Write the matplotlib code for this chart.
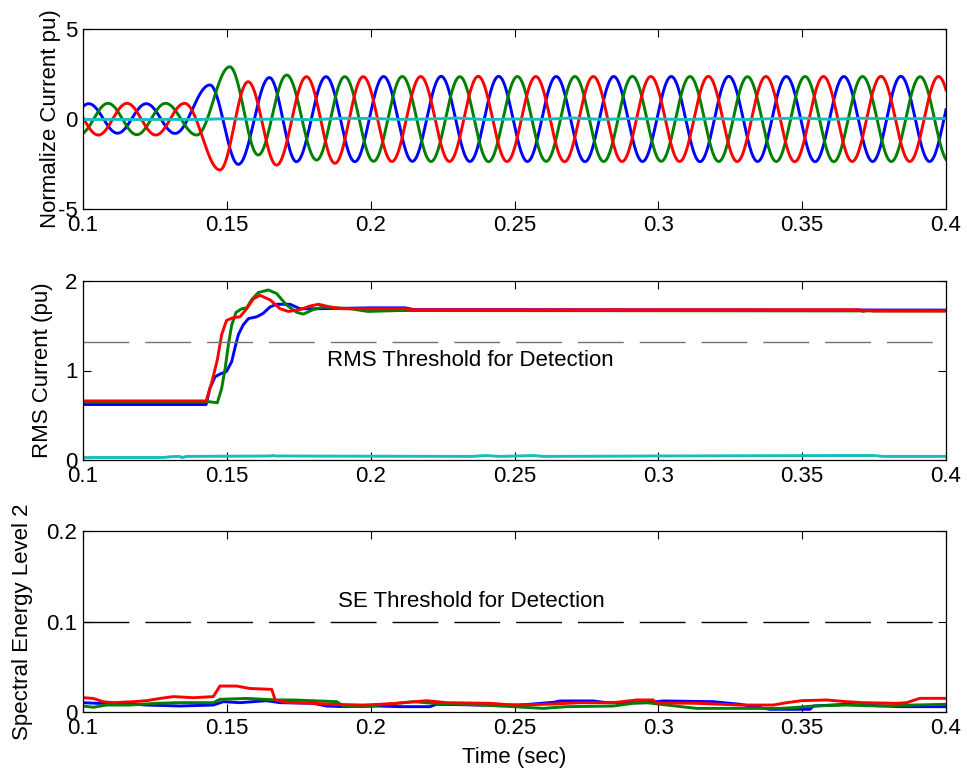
import numpy as np
import matplotlib
matplotlib.use("Agg")
import matplotlib.pyplot as plt

plt.rcParams['font.family'] = ['Liberation Sans', 'DejaVu Sans']
plt.rcParams['font.size'] = 16
plt.rcParams['axes.unicode_minus'] = False

# ---------------- phase-current waveforms: successive peaks / troughs ----------------
blue_ext_t = [0.0920, 0.1020, 0.1120, 0.1220, 0.1320, 0.1441, 0.1540, 0.1648, 0.1742,
              0.1845, 0.1945, 0.2045, 0.2145, 0.2245, 0.2345, 0.2445, 0.2545, 0.2645,
              0.2745, 0.2845, 0.2945, 0.3045, 0.3145, 0.3245, 0.3345, 0.3445, 0.3545,
              0.3645, 0.3745, 0.3843, 0.3943, 0.4043]
blue_ext_v = [-0.80, 0.85, -0.79, 0.85, -0.80, 1.89, -2.52, 2.30, -2.37,
              2.35, -2.37, 2.36, -2.35, 2.37, -2.36, 2.37, -2.36, 2.36,
              -2.37, 2.36, -2.36, 2.36, -2.37, 2.37, -2.36, 2.36, -2.37,
              2.36, -2.36, 2.37, -2.36, 2.36]

green_ext_t = [0.0887, 0.0987, 0.1087, 0.1187, 0.1287, 0.1395, 0.1510, 0.1609, 0.1708,
               0.1812, 0.1910, 0.2010, 0.2110, 0.2210, 0.2310, 0.2410, 0.2510, 0.2610,
               0.2710, 0.2810, 0.2910, 0.3010, 0.3110, 0.3210, 0.3310, 0.3410, 0.3510,
               0.3610, 0.3710, 0.3810, 0.3910, 0.4010]
green_ext_v = [0.87, -0.87, 0.87, -0.87, 0.87, -0.89, 2.90, -2.00, 2.44,
               -2.28, 2.35, -2.35, 2.36, -2.36, 2.35, -2.37, 2.36, -2.35,
               2.36, -2.36, 2.37, -2.35, 2.36, -2.36, 2.35, -2.36, 2.36,
               -2.37, 2.36, -2.36, 2.35, -2.36]

red_ext_t = [0.0953, 0.1053, 0.1153, 0.1253, 0.1353, 0.1476, 0.1574, 0.1673, 0.1777,
             0.1876, 0.1974, 0.2074, 0.2174, 0.2274, 0.2374, 0.2474, 0.2574, 0.2674,
             0.2774, 0.2874, 0.2974, 0.3074, 0.3174, 0.3274, 0.3374, 0.3474, 0.3574,
             0.3674, 0.3774, 0.3874, 0.3974, 0.4074]
red_ext_v = [0.87, -0.89, 0.87, -0.89, 0.87, -2.83, 2.07, -2.56, 2.35,
             -2.46, 2.35, -2.36, 2.36, -2.36, 2.37, -2.36, 2.36, -2.37,
             2.36, -2.36, 2.36, -2.36, 2.37, -2.36, 2.36, -2.37, 2.36,
             -2.36, 2.37, -2.36, 2.36, -2.36]

neutral_t = [0.10, 0.11, 0.12, 0.13, 0.14, 0.15, 0.16, 0.17, 0.18, 0.19, 0.20, 0.21,
             0.22, 0.23, 0.24, 0.25, 0.26, 0.27, 0.28, 0.29, 0.30, 0.31, 0.32, 0.33,
             0.34, 0.35, 0.36, 0.37, 0.38, 0.39, 0.40]
neutral_v = [-0.03, -0.02, -0.03, -0.02, -0.03, 0.02, -0.02, 0.00, -0.04, 0.04, 0.03, -0.02,
             0.00, 0.05, -0.03, 0.00, -0.02, 0.06, -0.02, 0.02, 0.00, -0.03, 0.03, -0.03,
             0.02, 0.05, -0.02, 0.04, 0.02, 0.02, 0.03]

# ---------------- RMS currents ----------------
rms_blue_t = [0.100, 0.1428, 0.1441, 0.1459, 0.1476, 0.1499, 0.1517, 0.1528, 0.1540, 0.1557,
              0.1575, 0.1604, 0.1627, 0.1650, 0.1673, 0.1720, 0.1754, 0.1812, 0.2000, 0.2120,
              0.2150, 0.4000]
rms_blue_v = [0.62, 0.62, 0.80, 0.93, 0.96, 0.99, 1.10, 1.25, 1.40, 1.51,
              1.58, 1.60, 1.64, 1.71, 1.74, 1.74, 1.69, 1.69, 1.70, 1.70,
              1.68, 1.675]

rms_green_t = [0.100, 0.1441, 0.1467, 0.1482, 0.1494, 0.1505, 0.1517, 0.1532, 0.1552, 0.1569,
               0.1586, 0.1609, 0.1644, 0.1673, 0.1708, 0.1743, 0.1766, 0.1800, 0.1835, 0.1880,
               0.1930, 0.1990, 0.2100, 0.4000]
rms_green_v = [0.65, 0.65, 0.64, 0.80, 1.02, 1.28, 1.51, 1.65, 1.69, 1.70,
               1.79, 1.87, 1.90, 1.86, 1.73, 1.65, 1.63, 1.68, 1.71, 1.70,
               1.69, 1.66, 1.67, 1.665]

rms_red_t = [0.100, 0.1428, 0.1447, 0.1467, 0.1482, 0.1499, 0.1522, 0.1546, 0.1569, 0.1592,
             0.1615, 0.1650, 0.1685, 0.1714, 0.1754, 0.1789, 0.1818, 0.1859, 0.1900, 0.2120,
             0.2150, 0.3700, 0.3712, 0.3725, 0.3750, 0.4000]
rms_red_v = [0.66, 0.66, 0.86, 1.12, 1.40, 1.56, 1.59, 1.60, 1.69, 1.80,
             1.84, 1.79, 1.69, 1.66, 1.68, 1.72, 1.74, 1.71, 1.69, 1.69,
             1.678, 1.678, 1.66, 1.675, 1.665, 1.665]

rms_neutral_t = [0.100, 0.128, 0.131, 0.1335, 0.1345, 0.136, 0.165, 0.166, 0.167, 0.235,
                 0.240, 0.245, 0.257, 0.260, 0.300, 0.365, 0.375, 0.378, 0.400]
rms_neutral_v = [0.028, 0.028, 0.038, 0.040, 0.028, 0.040, 0.045, 0.050, 0.045, 0.040,
                 0.050, 0.040, 0.050, 0.040, 0.045, 0.050, 0.050, 0.040, 0.040]

# ---------------- spectral energy, level 2 ----------------
se_blue_t = [0.100, 0.1047, 0.1129, 0.1221, 0.1337, 0.1453, 0.1488, 0.1546, 0.1638, 0.1685,
             0.1800, 0.1847, 0.1917, 0.2032, 0.2102, 0.2206, 0.2229, 0.2380, 0.2519, 0.2635,
             0.2658, 0.2774, 0.2820, 0.2959, 0.3017, 0.3191, 0.3284, 0.3388, 0.3527, 0.3539,
             0.3654, 0.3840, 0.4000]
se_blue_v = [0.0103, 0.0096, 0.0096, 0.0077, 0.0066, 0.0077, 0.0114, 0.0103, 0.0125, 0.0103,
             0.0096, 0.0066, 0.0059, 0.0066, 0.0059, 0.0059, 0.0085, 0.0077, 0.0077, 0.0107,
             0.0122, 0.0122, 0.0103, 0.0103, 0.0122, 0.0114, 0.0085, 0.0030, 0.0030, 0.0066,
             0.0085, 0.0059, 0.0059]

se_green_t = [0.100, 0.1036, 0.1082, 0.1163, 0.1256, 0.1337, 0.1453, 0.1476, 0.1569, 0.1673,
              0.1731, 0.1882, 0.1905, 0.1974, 0.2032, 0.2148, 0.2218, 0.2380, 0.2496, 0.2600,
              0.2681, 0.2843, 0.2913, 0.2959, 0.3029, 0.3133, 0.3307, 0.3423, 0.3481, 0.3539,
              0.3654, 0.3770, 0.3886, 0.4000]
se_green_v = [0.0066, 0.0052, 0.0077, 0.0077, 0.0096, 0.0103, 0.0103, 0.0140, 0.0150, 0.0133,
              0.0133, 0.0114, 0.0066, 0.0059, 0.0077, 0.0114, 0.0096, 0.0077, 0.0059, 0.0040,
              0.0059, 0.0066, 0.0096, 0.0103, 0.0077, 0.0040, 0.0040, 0.0040, 0.0051, 0.0066,
              0.0077, 0.0066, 0.0077, 0.0085]

se_red_t = [0.100, 0.1036, 0.1070, 0.1105, 0.1175, 0.1221, 0.1268, 0.1314, 0.1383, 0.1453,
            0.1476, 0.1534, 0.1580, 0.1656, 0.1668, 0.1708, 0.1800, 0.1859, 0.1974, 0.2032,
            0.2090, 0.2195, 0.2264, 0.2415, 0.2496, 0.2635, 0.2727, 0.2843, 0.2925, 0.2982,
            0.2994, 0.3133, 0.3284, 0.3400, 0.3446, 0.3498, 0.3585, 0.3654, 0.3712, 0.3828,
            0.3863, 0.3909, 0.4000]
se_red_v = [0.0158, 0.0150, 0.0114, 0.0103, 0.0114, 0.0125, 0.0150, 0.0170, 0.0158, 0.0170,
            0.0287, 0.0287, 0.0260, 0.0250, 0.0133, 0.0107, 0.0096, 0.0085, 0.0077, 0.0085,
            0.0096, 0.0125, 0.0103, 0.0096, 0.0077, 0.0088, 0.0103, 0.0103, 0.0133, 0.0133,
            0.0100, 0.0096, 0.0077, 0.0077, 0.0103, 0.0125, 0.0133, 0.0114, 0.0103, 0.0096,
            0.0103, 0.0151, 0.0151]

rms_threshold = 1.32
se_threshold = 0.10

x_ticks = [0.1, 0.15, 0.2, 0.25, 0.3, 0.35, 0.4]
x_ticklabels = ['0.1', '0.15', '0.2', '0.25', '0.3', '0.35', '0.4']

C_BLUE, C_GREEN, C_RED, C_CYAN = '#0000FF', '#008000', '#FF0000', '#17BEBE'


def through_extrema(ext_t, ext_v, t):
    """Smooth half-cosine segments joining consecutive peaks and troughs."""
    ext_t = np.asarray(ext_t)
    ext_v = np.asarray(ext_v)
    i = np.clip(np.searchsorted(ext_t, t, side='right') - 1, 0, len(ext_t) - 2)
    t0, t1 = ext_t[i], ext_t[i + 1]
    v0, v1 = ext_v[i], ext_v[i + 1]
    frac = (t - t0) / (t1 - t0)
    return (v0 + v1) / 2 + (v0 - v1) / 2 * np.cos(np.pi * frac)


fig = plt.figure(figsize=(9.67, 7.75), dpi=100)
left, width = 83 / 967, 863 / 967
ax1 = fig.add_axes([left, 1 - 209 / 775, width, 180 / 775])
ax2 = fig.add_axes([left, 1 - 460 / 775, width, 179 / 775])
ax3 = fig.add_axes([left, 1 - 712 / 775, width, 181 / 775])

LW = 2.1
tt = np.linspace(0.1, 0.4, 4001)

# Panel 1: normalized phase and neutral currents
ax1.plot(tt, through_extrema(blue_ext_t, blue_ext_v, tt), color=C_BLUE, lw=LW)
ax1.plot(tt, through_extrema(green_ext_t, green_ext_v, tt), color=C_GREEN, lw=LW)
ax1.plot(tt, through_extrema(red_ext_t, red_ext_v, tt), color=C_RED, lw=LW)
ax1.plot(neutral_t, neutral_v, color=C_CYAN, lw=LW)
ax1.set_ylim(-5, 5)
ax1.set_yticks([-5, 0, 5])
ax1.set_ylabel('Normalize Current pu)')

# Panel 2: RMS currents
ax2.plot(rms_blue_t, rms_blue_v, color=C_BLUE, lw=LW)
ax2.plot(rms_green_t, rms_green_v, color=C_GREEN, lw=LW)
ax2.plot(rms_red_t, rms_red_v, color=C_RED, lw=LW)
ax2.plot(rms_neutral_t, rms_neutral_v, color=C_CYAN, lw=LW)
ax2.axhline(rms_threshold, color='0.45', lw=1.0, dashes=(33, 11.5))
ax2.text(0.1847, 1.05, 'RMS Threshold for Detection', fontsize=16, va='baseline')
ax2.set_ylim(0, 2)
ax2.set_yticks([0, 1, 2])
ax2.set_ylabel('RMS Current (pu)')

# Panel 3: spectral energy
ax3.plot(se_blue_t, se_blue_v, color=C_BLUE, lw=LW)
ax3.plot(se_green_t, se_green_v, color=C_GREEN, lw=LW)
ax3.plot(se_red_t, se_red_v, color=C_RED, lw=LW)
ax3.axhline(se_threshold, color='black', lw=1.0, dashes=(33, 11.5))
ax3.text(0.1888, 0.1157, 'SE Threshold for Detection', fontsize=16, va='baseline')
ax3.set_ylim(0, 0.2)
ax3.set_yticks([0, 0.1, 0.2])
ax3.set_yticklabels(['0', '0.1', '0.2'])
ax3.set_ylabel('Spectral Energy Level 2')
ax3.set_xlabel('Time (sec)', labelpad=6)

for ax in (ax1, ax2, ax3):
    ax.set_xlim(0.1, 0.4)
    ax.set_xticks(x_ticks)
    ax.set_xticklabels(x_ticklabels)
    ax.tick_params(direction='in', top=True, right=True, length=6, width=0.8,
                   labelsize=16, pad=4)
    for s in ax.spines.values():
        s.set_linewidth(0.9)

ax1.yaxis.set_label_coords(-0.026, 0.5)
ax2.yaxis.set_label_coords(-0.035, 0.5)
ax3.yaxis.set_label_coords(-0.058, 0.5)

fig.savefig('out.png', dpi=100)
